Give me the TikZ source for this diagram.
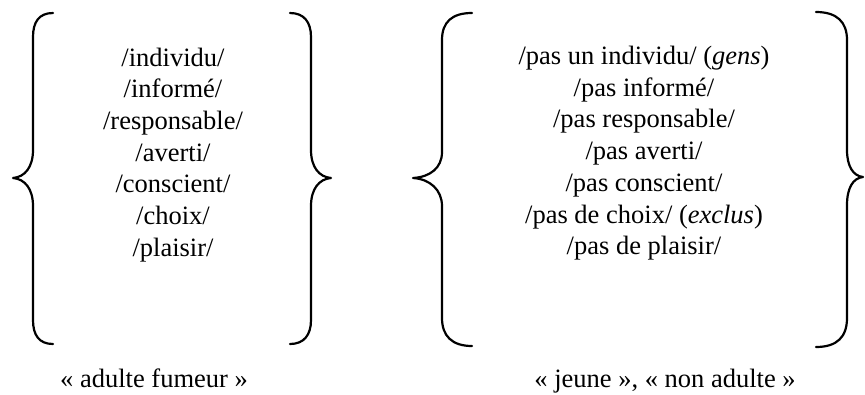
\documentclass[tikz,border=0pt]{standalone}
\usepackage{fontspec}
\setmainfont{Liberation Serif}
\begin{document}
\begin{tikzpicture}[x=1pt,y=-1pt,
  brace/.style={line width=2.2pt, line cap=round, line join=round},
  txt/.style={anchor=base, inner sep=0pt, font=\fontsize{26.5}{31.7}\selectfont}]
\useasboundingbox (0,0) rectangle (865,394);
% group 1 braces
\draw[brace] (53,13) .. controls (39,13) and (33,22) .. (33,37) -- (33,150)
  .. controls (33,167) and (25,177) .. (13,178)
  .. controls (25,179) and (33,189) .. (33,206) -- (33,320)
  .. controls (33,335) and (39,344) .. (53,344);
\draw[brace] (290,13) .. controls (304,13) and (311,22) .. (311,37) -- (311,150)
  .. controls (311,167) and (319,177) .. (331,178)
  .. controls (319,179) and (311,189) .. (311,206) -- (311,320)
  .. controls (311,335) and (304,344) .. (290,344);
% group 2 braces
\draw[brace] (472,13) .. controls (452,13) and (442,22) .. (442,40) -- (442,152)
  .. controls (442,168) and (430,177) .. (413,178)
  .. controls (430,179) and (442,190) .. (442,206) -- (442,318)
  .. controls (442,336) and (452,346) .. (472,346);
\draw[brace] (816,12) .. controls (837,12) and (847,22) .. (847,40) -- (847,150)
  .. controls (847,166) and (853,176) .. (863,177)
  .. controls (853,178) and (847,188) .. (847,205) -- (847,318)
  .. controls (847,337) and (837,347) .. (816,347);
% left list
\foreach \t [count=\i] in {/individu/,/informé/,/responsable/,/averti/,/conscient/,/choix/,/plaisir/}
  \node[txt] (a\i) at (173,{66+31.7*(\i-1)}) {\t};
% right list
\foreach \t [count=\i] in {/pas un individu/ (\textit{gens}),/pas informé/,/pas responsable/,/pas averti/,/pas conscient/,/pas de choix/ (\textit{exclus}),/pas de plaisir/}
  \node[txt] (b\i) at (644,{64.5+31.7*(\i-1)}) {\t};
% captions
\node[txt] (ca) at (154,387) {« adulte fumeur »};
\node[txt] (cb) at (665,387) {« jeune », « non adulte »};
\end{tikzpicture}
\end{document}
